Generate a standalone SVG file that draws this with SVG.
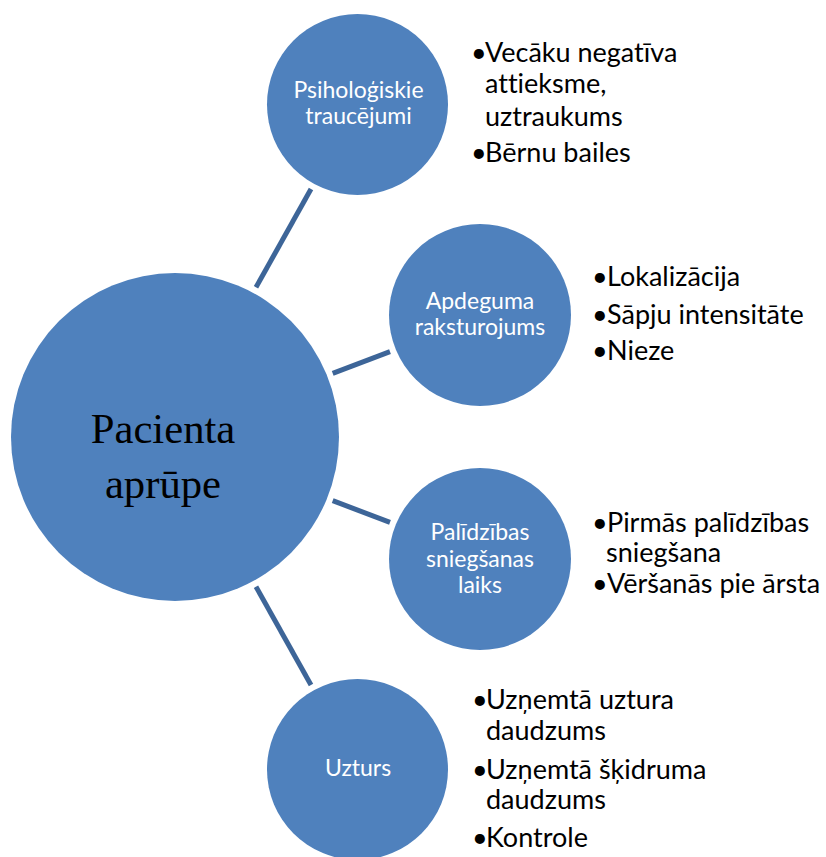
<svg xmlns="http://www.w3.org/2000/svg" width="826" height="857" viewBox="0 0 826 857">
<style>
.node{fill:#4f81bd;}
.lbl{font-family:Lato,"Liberation Sans",sans-serif;font-size:23px;fill:#ffffff;text-anchor:middle;font-variant-ligatures:none;}
.main{font-family:"Liberation Serif","Times New Roman",serif;font-size:42.7px;fill:#000000;text-anchor:middle;}
.bul{font-family:Lato,"Liberation Sans",sans-serif;font-size:27px;fill:#000000;font-variant-ligatures:none;}
.conn line{stroke:#3d6598;stroke-width:5;stroke-linecap:butt;}
</style>
<rect width="826" height="857" fill="#ffffff"/>
<g id="connectors" class="conn">
<line x1="256" y1="287.3" x2="311" y2="189"/>
<line x1="332.7" y1="373.3" x2="390" y2="351.7"/>
<line x1="332.7" y1="500.7" x2="390" y2="522.3"/>
<line x1="256" y1="586.7" x2="311" y2="685"/>
</g>
<g id="center">
<circle class="node" cx="175" cy="437" r="164"/>
<text class="main" x="163" y="443">Pacienta</text>
<text class="main" x="163" y="498">aprūpe</text>
</g>
<g id="node-psih">
<circle class="node" cx="357.5" cy="104.5" r="90.5"/>
<text class="lbl" x="358.5" y="98">Psiholoģiskie</text>
<text class="lbl" x="358.5" y="124">traucējumi</text>
</g>
<g id="node-apdeguma">
<circle class="node" cx="480" cy="315" r="91"/>
<text class="lbl" x="480" y="309">Apdeguma</text>
<text class="lbl" x="480" y="335">raksturojums</text>
</g>
<g id="node-palidzibas">
<circle class="node" cx="480" cy="559" r="91"/>
<text class="lbl" x="480" y="540">Palīdzības</text>
<text class="lbl" x="480" y="566.5">sniegšanas</text>
<text class="lbl" x="480" y="593">laiks</text>
</g>
<g id="node-uzturs">
<circle class="node" cx="357.5" cy="769.5" r="90.5"/>
<text class="lbl" x="358" y="776">Uzturs</text>
</g>
<g id="list-psih" class="bul">
<text x="471" y="62">•</text>
<text x="485" y="62">Vecāku negatīva</text>
<text x="485" y="93">attieksme,</text>
<text x="485" y="126">uztraukums</text>
<text x="471" y="162">•</text>
<text x="485" y="162">Bērnu bailes</text>
</g>
<g id="list-apdeguma" class="bul">
<text x="592" y="286">•</text>
<text x="607" y="286">Lokalizācija</text>
<text x="592" y="323.5">•</text>
<text x="607" y="323.5">Sāpju intensitāte</text>
<text x="592" y="360">•</text>
<text x="607" y="360">Nieze</text>
</g>
<g id="list-palidzibas" class="bul">
<text x="592" y="532">•</text>
<text x="607" y="532">Pirmās palīdzības</text>
<text x="606" y="562">sniegšana</text>
<text x="592" y="593">•</text>
<text x="607" y="593">Vēršanās pie ārsta</text>
</g>
<g id="list-uzturs" class="bul">
<text x="472" y="709">•</text>
<text x="486" y="709">Uzņemtā uztura</text>
<text x="486" y="740">daudzums</text>
<text x="472" y="779">•</text>
<text x="486" y="779">Uzņemtā šķidruma</text>
<text x="486" y="809">daudzums</text>
<text x="472" y="847">•</text>
<text x="486" y="847">Kontrole</text>
</g>
</svg>
